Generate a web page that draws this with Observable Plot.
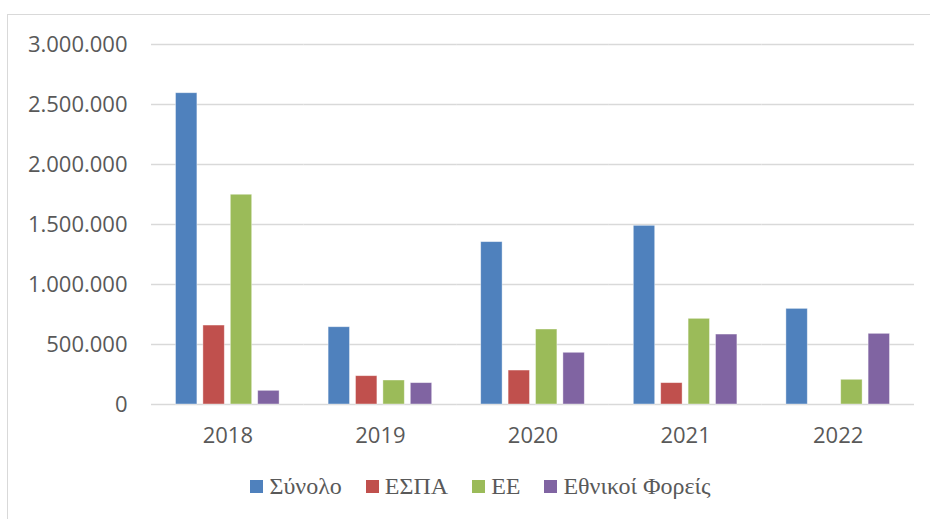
<!DOCTYPE html>
<html>
<head>
<meta charset="utf-8">
<script src="https://cdn.jsdelivr.net/npm/d3@7"></script>
<script src="https://cdn.jsdelivr.net/npm/@observablehq/plot@0.6"></script>
<style>
  html, body { margin: 0; padding: 0; background: #fff; overflow: hidden; width: 930px; height: 519px; }
  #frame { position: absolute; left: 7px; top: 14px; width: 1000px; height: 600px; border: 1.5px solid #d9d9d9; box-sizing: border-box; }
  #chart { position: absolute; left: 0; top: 0; }
  #legend { position: absolute; left: 0; top: 473px; width: 961px; display: flex; justify-content: center; align-items: center;
            font-family: "Liberation Serif", serif; font-size: 24px; color: #595959; }
  .item { display: flex; align-items: center; margin: 0 12px; }
  .sw { width: 13px; height: 13px; margin-right: 6px; }
</style>
</head>
<body>
<div id="frame"></div>
<div id="chart"></div>
<div id="legend"></div>
<script>
const years = ["2018", "2019", "2020", "2021", "2022"];
const series = ["Σύνολο", "ΕΣΠΑ", "ΕΕ", "Εθνικοί Φορείς"];
const synolo = [2594000, 644000, 1353000, 1489000, 797000];
const espa = [658000, 236000, 283000, 178000, 0];
const ee = [1748000, 200000, 625000, 714000, 206000];
const ethnikoi = [114000, 178000, 431000, 583000, 589000];
const colors = ["#4F81BD", "#C0504D", "#9BBB59", "#8064A2"];
const yTicks = [0, 500000, 1000000, 1500000, 2000000, 2500000, 3000000];

const valuesBySeries = [synolo, espa, ee, ethnikoi];
const data = [];
years.forEach((yr, i) => {
  series.forEach((s, j) => {
    data.push({year: yr, series: s, value: valuesBySeries[j][i]});
  });
});

const locale = d3.formatLocale({decimal: ",", thousands: ".", grouping: [3], currency: ["", "€"]});
const fmt = locale.format(",d");

const chart = Plot.plot({
  width: 930,
  height: 455,
  marginLeft: 151,
  marginRight: 16,
  marginTop: 44,
  marginBottom: 51,
  style: {fontFamily: "'Open Sans', sans-serif", fontSize: "22px", color: "#595959", background: "transparent"},
  fx: {domain: years, padding: 0, round: false, axis: "bottom", tickSize: 0, tickPadding: 23, label: null},
  x: {domain: series, axis: null, round: false, paddingInner: 0.219, paddingOuter: 0.894},
  y: {domain: [0, 3000000], ticks: yTicks, tickFormat: fmt, tickSize: 0, tickPadding: 24, label: null},
  color: {domain: series, range: colors},
  marks: [
    Plot.ruleY(yTicks, {stroke: "#d9d9d9", strokeWidth: 1.6}),
    Plot.barY(data, {
      filter: d => d.value > 0,
      fx: "year", x: "series", y: "value", fill: "series",
      stroke: "#ffffff", strokeOpacity: 0.5, strokeWidth: 0.8
    })
  ]
});
document.getElementById("chart").appendChild(chart);

const legend = document.getElementById("legend");
series.forEach((s, j) => {
  const item = document.createElement("div");
  item.className = "item";
  const sw = document.createElement("div");
  sw.className = "sw";
  sw.style.background = colors[j];
  const label = document.createElement("span");
  label.textContent = s;
  item.appendChild(sw);
  item.appendChild(label);
  legend.appendChild(item);
});
</script>
</body>
</html>
